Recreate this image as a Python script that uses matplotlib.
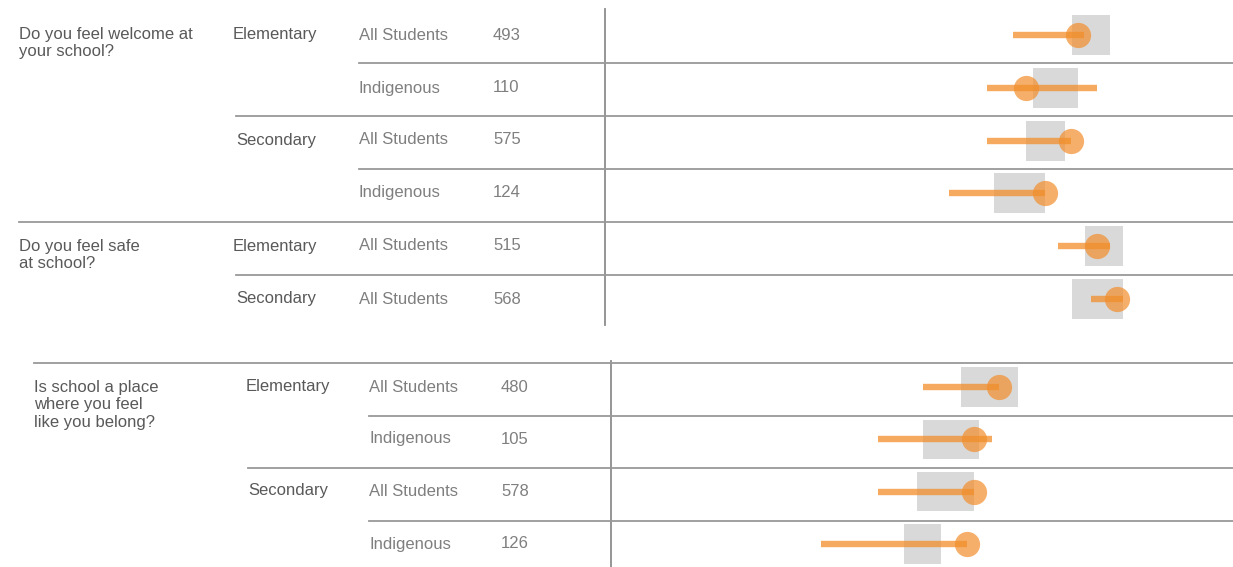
import matplotlib
matplotlib.use("Agg")
import matplotlib.pyplot as plt
from matplotlib.lines import Line2D

# ---- data ----
questions = ["Do you feel welcome at\nyour school?",
             "Do you feel safe\nat school?",
             "Is school a place\nwhere you feel\nlike you belong?"]

# top panel: welcome (4 rows) + safe (2 rows)
top_level = ["Elementary", "", "Secondary", "", "Elementary", "Secondary"]
top_group = ["All Students", "Indigenous", "All Students", "Indigenous",
             "All Students", "All Students"]
top_n = [493, 110, 575, 124, 515, 568]
top_box_lo = [74.3, 68.1, 67.0, 61.9, 76.4, 74.3]
top_box_hi = [80.4, 75.3, 73.2, 70.1, 82.5, 82.5]
top_ci_lo = [65.0, 60.9, 60.9, 54.7, 72.2, 77.4]
top_ci_hi = [76.2, 78.4, 74.2, 70.1, 80.4, 82.5]
top_point = [75.3, 67.0, 74.2, 70.1, 78.4, 81.5]

# bottom panel: belong (4 rows)
bot_level = ["Elementary", "", "Secondary", ""]
bot_group = ["All Students", "Indigenous", "All Students", "Indigenous"]
bot_n = [480, 105, 578, 126]
bot_box_lo = [56.3, 50.2, 49.2, 47.1]
bot_box_hi = [65.4, 59.2, 58.3, 53.1]
bot_ci_lo = [50.2, 43.0, 43.0, 33.7]
bot_ci_hi = [62.4, 61.3, 58.3, 57.3]
bot_point = [62.4, 58.3, 58.3, 57.3]

W, H = 1233, 567
plt.rcParams['font.family'] = ['Liberation Sans', 'DejaVu Sans']
fig = plt.figure(figsize=(W / 100, H / 100), dpi=100)

DARK = '#595959'
LIGHT = '#7f7f7f'
RULE = '#999999'
ORANGE = '#f28e2b'


def fx(x):
    return x / W


def fy(y):
    return 1 - y / H


def hrule(y, x0, x1=W):
    fig.add_artist(Line2D([fx(x0), fx(x1)], [fy(y), fy(y)], color=RULE, lw=1.3))


def label(x, y, s, color, va='center'):
    fig.text(fx(x), fy(y), s, color=color, fontsize=12, ha='left', va=va,
             linespacing=1.2)


def panel(left, top, bottom, lo, hi, ci_lo, ci_hi, pt):
    ax = fig.add_axes([fx(left), fy(bottom), fx(W - left), (bottom - top) / H])
    rows = list(range(len(pt)))
    ax.barh(rows, [h - l for l, h in zip(lo, hi)], left=lo, height=0.76,
            color='#d9d9d9', zorder=1)
    ax.hlines(rows, ci_lo, ci_hi, color=ORANGE, lw=4.6, alpha=0.75, zorder=2)
    ax.scatter(pt, rows, s=330, color=ORANGE, alpha=0.7, lw=0, zorder=3)
    ax.set_xlim(0, 100)
    ax.set_ylim(len(pt) - 0.5, -0.5)
    ax.set_xticks([])
    ax.set_yticks([])
    for side in ['top', 'right', 'bottom']:
        ax.spines[side].set_visible(False)
    ax.spines['left'].set_color('#8c8c8c')
    ax.spines['left'].set_linewidth(1.3)
    ax.patch.set_alpha(0)
    return ax


# top panel
top_rows_y = [35, 88, 140, 193, 246, 299]
panel(605, 8.6, 325.4, top_box_lo, top_box_hi, top_ci_lo, top_ci_hi, top_point)
label(19, 27, questions[0], DARK, va='top')
label(19, 239, questions[1], DARK, va='top')
level_x = {"Elementary": 233, "Secondary": 236}
for y, lev, grp, n in zip(top_rows_y, top_level, top_group, top_n):
    if lev:
        label(level_x[lev], y, lev, DARK)
    label(359, y, grp, LIGHT)
    label(493, y, str(n), LIGHT)
hrule(63, 359)
hrule(116, 236)
hrule(169, 359)
hrule(222, 19)
hrule(275, 236)

# bottom panel
bot_rows_y = [387, 439, 491, 544]
panel(611, 361, 570, bot_box_lo, bot_box_hi, bot_ci_lo, bot_ci_hi, bot_point)
label(34, 380, questions[2], DARK, va='top')
level_x = {"Elementary": 246, "Secondary": 248}
for y, lev, grp, n in zip(bot_rows_y, bot_level, bot_group, bot_n):
    if lev:
        label(level_x[lev], y, lev, DARK)
    label(369, y, grp, LIGHT)
    label(501, y, str(n), LIGHT)
hrule(362.5, 34)
hrule(415.5, 369)
hrule(467.5, 248)
hrule(520.5, 369)

fig.savefig('out.png', dpi=100)
